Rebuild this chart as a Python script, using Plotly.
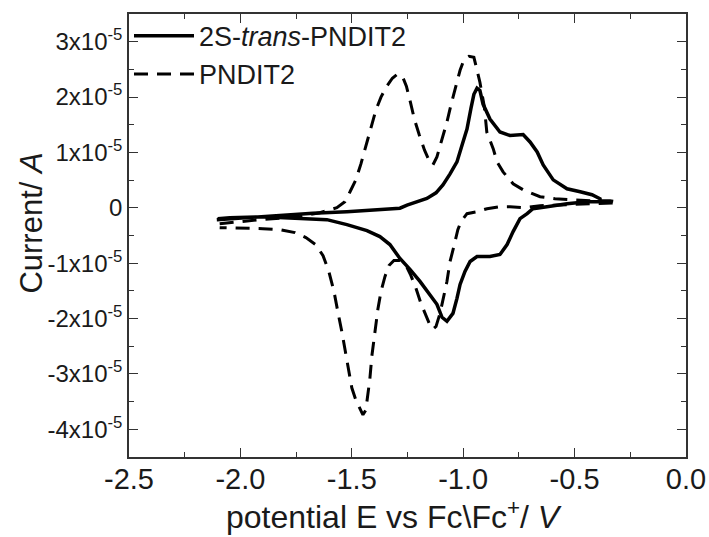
import plotly.graph_objects as go

# Cyclic voltammograms: potential (V vs Fc/Fc+) and current (in units of 1e-5 A)
trans_potential = [
    -2.106, -1.971, -1.823, -1.675, -1.522, -1.374, -1.284, -1.252, -1.194, -1.163,
    -1.122, -1.091, -1.059, -1.028, -1.005, -0.983, -0.965, -0.952, -0.938, -0.925,
    -0.911, -0.880, -0.835, -0.790, -0.731, -0.700, -0.668, -0.641, -0.596, -0.534,
    -0.475, -0.422, -0.386,
    -0.386, -0.444, -0.534, -0.624, -0.687, -0.713, -0.745, -0.776, -0.803, -0.835,
    -0.880, -0.938, -0.969, -0.992, -1.014, -1.028, -1.046, -1.073, -1.095, -1.118,
    -1.149, -1.194, -1.239, -1.284, -1.329, -1.374, -1.432, -1.522, -1.612, -1.747,
    -1.899, -2.048, -2.102,
]
trans_current = [
    -0.214, -0.178, -0.124, -0.097, -0.070, -0.040, -0.007, 0.050, 0.128, 0.169,
    0.270, 0.415, 0.613, 0.829, 1.135, 1.423, 1.800, 2.050, 2.160, 2.120,
    1.873, 1.603, 1.369, 1.306, 1.324, 1.189, 1.009, 0.775, 0.505, 0.344,
    0.290, 0.236, 0.164,
    0.110, 0.110, 0.074, 0.020, -0.016, -0.106, -0.196, -0.430, -0.664, -0.843,
    -0.879, -0.879, -0.969, -1.149, -1.383, -1.635, -1.906, -2.050, -1.977, -1.743,
    -1.563, -1.329, -1.113, -0.915, -0.664, -0.520, -0.412, -0.304, -0.214, -0.187,
    -0.160, -0.178, -0.196,
]

ref_potential = [
    -2.093, -1.912, -1.734, -1.644, -1.567, -1.531, -1.508, -1.482, -1.459, -1.437,
    -1.414, -1.392, -1.369, -1.346, -1.318, -1.296, -1.273, -1.255, -1.237, -1.219,
    -1.197, -1.174, -1.152, -1.136, -1.118, -1.095, -1.073, -1.055, -1.032, -1.014,
    -0.996, -0.974, -0.952, -0.938, -0.925, -0.905, -0.894, -0.865, -0.848, -0.821,
    -0.776, -0.731, -0.687, -0.655, -0.588, -0.520, -0.430, -0.341, -0.310,
    -0.310, -0.430, -0.565, -0.655, -0.731, -0.790, -0.835, -0.893, -0.938, -0.983,
    -1.010, -1.024, -1.041, -1.059, -1.073, -1.086, -1.104, -1.122, -1.136, -1.149,
    -1.167, -1.190, -1.212, -1.235, -1.257, -1.284, -1.311, -1.333, -1.351, -1.369,
    -1.383, -1.396, -1.410, -1.419, -1.428, -1.437, -1.450, -1.464, -1.482, -1.500,
    -1.513, -1.527, -1.545, -1.563, -1.580, -1.603, -1.629, -1.661, -1.706, -1.755,
    -1.823, -1.899, -2.003, -2.093,
]
ref_current = [
    -0.286, -0.214, -0.160, -0.088, 0.002, 0.110, 0.290, 0.505, 0.793, 1.099,
    1.423, 1.764, 1.998, 2.178, 2.340, 2.410, 2.376, 2.196, 1.908, 1.600,
    1.315, 1.045, 0.847, 0.775, 0.919, 1.243, 1.549, 1.855, 2.214, 2.484,
    2.682, 2.736, 2.718, 2.500, 2.268, 1.820, 1.367, 1.064, 0.829, 0.649,
    0.434, 0.326, 0.254, 0.200, 0.164, 0.146, 0.128, 0.128, 0.110,
    0.092, 0.074, 0.056, 0.038, 0.002, 0.020, 0.020, -0.016, -0.070, -0.106,
    -0.250, -0.394, -0.682, -0.970, -1.330, -1.600, -1.906, -2.140, -2.190, -2.120,
    -1.960, -1.725, -1.455, -1.221, -1.041, -0.951, -0.951, -1.041, -1.239, -1.509,
    -1.833, -2.228, -2.678, -3.092, -3.416, -3.650, -3.739, -3.630, -3.470, -3.250,
    -2.950, -2.590, -2.230, -1.870, -1.510, -1.150, -0.865, -0.667, -0.538, -0.448,
    -0.394, -0.376, -0.367, -0.358,
]

SCALE = 1e-5

x_ticks = [-2.5, -2.0, -1.5, -1.0, -0.5, 0.0]
x_ticklabels = ["-2.5", "-2.0", "-1.5", "-1.0", "-0.5", "0.0"]
y_ticks = [-4e-5, -3e-5, -2e-5, -1e-5, 0.0, 1e-5, 2e-5, 3e-5]
y_ticklabels = [
    "-4x10<sup>-5</sup>", "-3x10<sup>-5</sup>", "-2x10<sup>-5</sup>", "-1x10<sup>-5</sup>",
    "0", "1x10<sup>-5</sup>", "2x10<sup>-5</sup>", "3x10<sup>-5</sup>",
]
x_title = "potential E vs Fc\\Fc<sup>+</sup>/ <i>V</i>"
y_title = "Current/ <i>A</i>"

FONT = "Liberation Sans, Arial, sans-serif"
INK = "#1a1a1a"
AXIS = "#333333"

fig = go.Figure()
fig.add_trace(go.Scatter(
    x=trans_potential, y=[v * SCALE for v in trans_current],
    mode="lines", name="2S-<i>trans</i>-PNDIT2",
    line=dict(color="black", width=3.5),
))
fig.add_trace(go.Scatter(
    x=ref_potential, y=[v * SCALE for v in ref_current],
    mode="lines", name="PNDIT2",
    line=dict(color="black", width=3, dash="14px,9px"),
))

axis_common = dict(
    showline=True, linecolor=AXIS, linewidth=1.5, mirror="ticks",
    ticks="inside", ticklen=9, tickwidth=1.3, tickcolor=AXIS,
    showgrid=False, zeroline=False, automargin=False,
)

fig.update_layout(
    width=709, height=537,
    margin=dict(l=129, r=23, t=12, b=80),
    paper_bgcolor="white", plot_bgcolor="white",
    showlegend=True,
    legend=dict(
        x=0.0, y=1.005, xanchor="left", yanchor="top",
        bgcolor="rgba(0,0,0,0)", itemwidth=60,
        font=dict(family=FONT, size=27, color=INK),
        tracegroupgap=0,
    ),
    xaxis=dict(
        **axis_common,
        range=[-2.5, 0.0], tickmode="array", tickvals=x_ticks, ticktext=x_ticklabels,
        tickfont=dict(family=FONT, size=29, color=INK), ticklabelstandoff=-5,
        minor=dict(ticks="inside", ticklen=5, tickwidth=1.3, tickcolor=AXIS, dtick=0.25),
    ),
    yaxis=dict(
        **axis_common,
        range=[-4.5e-5, 3.5e-5], tickmode="array", tickvals=y_ticks, ticktext=y_ticklabels,
        tickfont=dict(family=FONT, size=24, color=INK),
        minor=dict(ticks="inside", ticklen=5, tickwidth=1.3, tickcolor=AXIS, dtick=0.5e-5),
    ),
    annotations=[
        dict(text=x_title, xref="paper", yref="paper", x=0.476, y=-0.13,
             xanchor="center", yanchor="middle", showarrow=False,
             font=dict(family=FONT, size=32, color=INK)),
        dict(text=y_title, xref="paper", yref="paper", x=-0.175, y=0.528,
             xanchor="center", yanchor="middle", showarrow=False, textangle=-90,
             font=dict(family=FONT, size=31, color=INK)),
    ],
)

fig.write_html("out.html")
